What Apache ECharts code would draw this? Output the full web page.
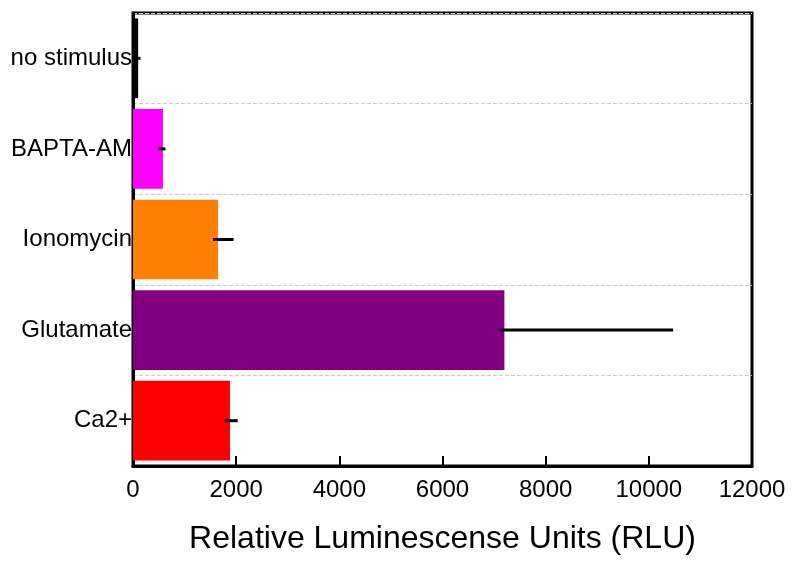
<!DOCTYPE html>
<html>
<head>
<meta charset="utf-8">
<script src="https://cdn.jsdelivr.net/npm/echarts@6/dist/echarts.min.js"></script>
<style>html,body{margin:0;padding:0;background:#fff;}#c{width:800px;height:564px;}</style>
</head>
<body>
<div id="c"></div>
<script>
const categories = ['Ca2+', 'Glutamate', 'Ionomycin', 'BAPTA-AM', 'no stimulus'];
const values = [1880, 7200, 1650, 580, 100];
const errLow = [1790, 7110, 1550, 490, 100];
const errHigh = [2030, 10470, 1950, 630, 145];
const colors = ['#FF0000', '#800080', '#FF8000', '#FF00FF', '#000000'];
const xTicks = [0, 2000, 4000, 6000, 8000, 10000, 12000];

const chart = echarts.init(document.getElementById('c'));
const font = 'Liberation Sans, Arial, sans-serif';
chart.setOption({
  animation: false,
  grid: { left: 133, right: 48, top: 13, bottom: 98, show: true, borderColor: '#000', borderWidth: 3 },
  xAxis: {
    type: 'value', min: xTicks[0], max: xTicks[xTicks.length - 1], interval: 2000,
    axisLine: { show: true, lineStyle: { color: '#000', width: 3 } },
    axisTick: { show: true, inside: true, length: 10, lineStyle: { color: '#000', width: 2 } },
    axisLabel: { color: '#000', fontSize: 24, fontFamily: font, margin: 12, formatter: v => String(v) },
    splitLine: { show: false },
    name: 'Relative Luminescense Units (RLU)', nameLocation: 'middle', nameGap: 57,
    nameTextStyle: { color: '#000', fontSize: 32, fontFamily: font }
  },
  yAxis: {
    type: 'category', data: categories,
    axisLine: { show: true, lineStyle: { color: '#000', width: 3 } },
    axisTick: { show: false },
    axisLabel: { color: '#000', fontSize: 24, fontFamily: font, margin: 1, padding: [5, 0, 0, 0] },
    splitLine: { show: true, lineStyle: { color: '#cccccc', type: 'dashed', width: 1 } }
  },
  series: [
    {
      type: 'bar', barCategoryGap: '12%',
      data: values.map((v, i) => ({ value: v, itemStyle: { color: colors[i] } }))
    },
    {
      type: 'custom', z: 5,
      data: categories.map((c, i) => [errLow[i], errHigh[i], i]),
      renderItem: function (params, api) {
        const a = api.coord([api.value(0), api.value(2)]);
        const b = api.coord([api.value(1), api.value(2)]);
        return { type: 'line', shape: { x1: a[0], y1: a[1], x2: b[0], y2: b[1] }, style: { stroke: '#000', lineWidth: 3 } };
      },
      encode: { x: [0, 1], y: 2 }
    }
  ]
});
</script>
</body>
</html>
